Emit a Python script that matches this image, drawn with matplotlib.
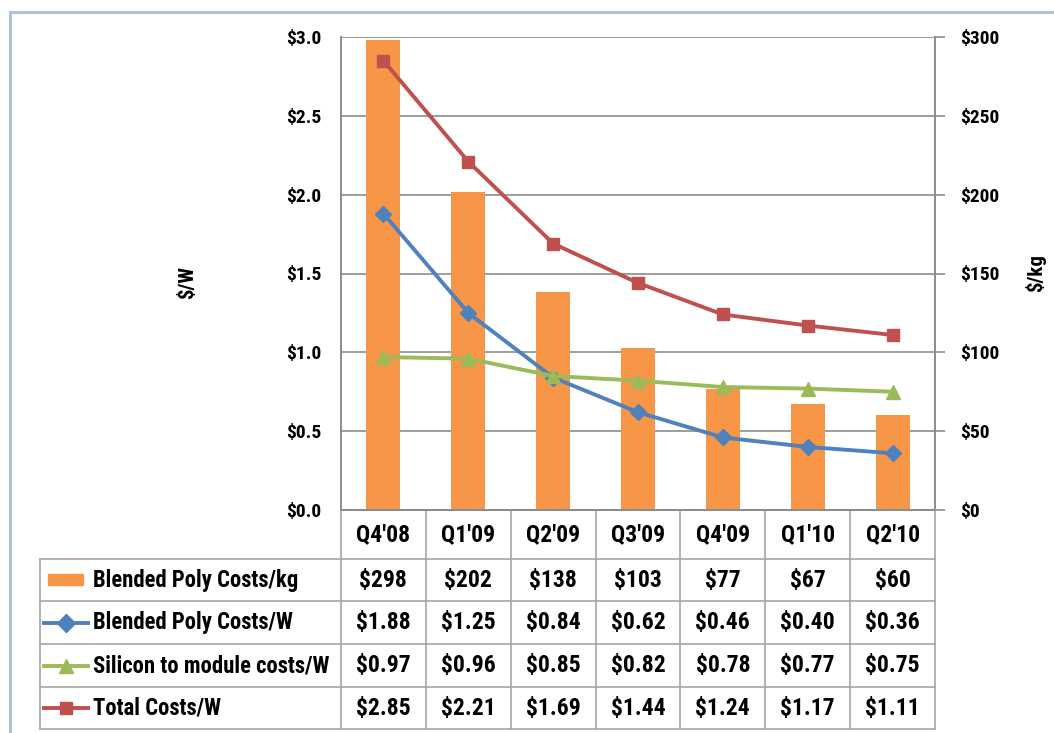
import matplotlib
matplotlib.use("Agg")
import matplotlib.pyplot as plt
from matplotlib.lines import Line2D
from matplotlib.patches import Rectangle
import matplotlib.transforms as mtransforms

plt.rcParams['font.family'] = ['Roboto Condensed', 'DejaVu Sans']
plt.rcParams['font.weight'] = 'bold'

quarters = ["Q4'08", "Q1'09", "Q2'09", "Q3'09", "Q4'09", "Q1'10", "Q2'10"]
poly_kg = [298, 202, 138, 103, 77, 67, 60]
poly_w = [1.88, 1.25, 0.84, 0.62, 0.46, 0.40, 0.36]
si_module_w = [0.97, 0.96, 0.85, 0.82, 0.78, 0.77, 0.75]
total_w = [2.85, 2.21, 1.69, 1.44, 1.24, 1.17, 1.11]
series_names = ["Blended Poly Costs/kg", "Blended Poly Costs/W",
                "Silicon to module costs/W", "Total Costs/W"]
left_ticks = [0.0, 0.5, 1.0, 1.5, 2.0, 2.5, 3.0]
right_ticks = [0, 50, 100, 150, 200, 250, 300]

ORANGE = '#F79646'
BLUE = '#4F81BD'
GREEN = '#9BBB59'
RED = '#C0504D'
GRID = '#8C8C8C'
TBL = '#A6A6A6'

W, H = 1054, 733
fig = plt.figure(figsize=(W / 100, H / 100), dpi=100)

# plot area in pixels
PL, PR, PT, PB = 341, 935, 37, 510
ax = fig.add_axes([PL / W, 1 - PB / H, (PR - PL) / W, (PB - PT) / H])
axk = ax.twinx()
ax.set_zorder(axk.get_zorder() + 1)
ax.patch.set_visible(False)

x = list(range(len(quarters)))
axk.bar(x, poly_kg, width=0.4, color=ORANGE, zorder=2)
axk.set_ylim(0, 300)
axk.set_yticks(right_ticks)
axk.set_yticklabels([f"${v}" for v in right_ticks], fontsize=14, fontweight='bold')
axk.yaxis.grid(True, color=GRID, lw=1.2, zorder=0)
axk.set_axisbelow(True)
axk.tick_params(axis='y', length=7, width=1.2, color=GRID, pad=11)
axk.set_ylabel("$/kg", fontsize=15, fontweight='bold', rotation=90)
axk.yaxis.set_label_coords((1025 - PL) / (PR - PL), 0.5)

ax.plot(x, poly_w, color=BLUE, lw=2.8, marker='D', ms=8, zorder=4)
ax.plot(x, si_module_w, color=GREEN, lw=2.8, marker='^', ms=10, zorder=4)
ax.plot(x, total_w, color=RED, lw=2.8, marker='s', ms=9, zorder=5)
ax.set_ylim(0, 3.0)
ax.set_xlim(-0.5, len(quarters) - 0.5)
ax.set_yticks(left_ticks)
ax.set_yticklabels([f"${v:.1f}" for v in left_ticks], fontsize=14, fontweight='bold')
ax.tick_params(axis='y', length=0, pad=14)
ax.set_xticks([])
ax.set_ylabel("$/W", fontsize=15, fontweight='bold', rotation=90)
ax.yaxis.set_label_coords((197 - PL) / (PR - PL), 0.48)
axk.set_xticks([])

for a in (ax, axk):
    a.spines['top'].set_visible(False)
    a.spines['left'].set_color(GRID)
    a.spines['right'].set_color(GRID)
    a.spines['bottom'].set_color(GRID)
    for s in a.spines.values():
        s.set_linewidth(1.2)

# ---- data table below the plot ----
tr = mtransforms.blended_transform_factory(ax.transData, fig.transFigure)
ff = fig.transFigure

def fy(py):
    return 1 - py / H

def fx(px):
    return px / W

row_edges = [510, 559, 601, 644, 687, 729]
n = len(quarters)

# vertical column lines
for i in range(n + 1):
    fig.add_artist(Line2D([i - 0.5, i - 0.5], [fy(row_edges[0]), fy(row_edges[-1])],
                          transform=tr, color=TBL, lw=1.2))
# horizontal lines
fig.add_artist(Line2D([-0.5, n - 0.5], [fy(row_edges[0]), fy(row_edges[0])],
                      transform=tr, color=GRID, lw=1.2))
for py in row_edges[1:]:
    fig.add_artist(Line2D([fx(40), fx(PR)], [fy(py), fy(py)], transform=ff,
                          color=TBL, lw=1.2))
fig.add_artist(Line2D([fx(40), fx(40)], [fy(row_edges[1]), fy(row_edges[-1])],
                      transform=ff, color=TBL, lw=1.2))

# header
hy = fy((row_edges[0] + row_edges[1]) / 2)
for i, q in enumerate(quarters):
    fig.text(i, hy, q, transform=tr, ha='center', va='center', fontsize=17,
             fontweight='bold')

table_rows = [
    [f"${v}" for v in poly_kg],
    [f"${v:.2f}" for v in poly_w],
    [f"${v:.2f}" for v in si_module_w],
    [f"${v:.2f}" for v in total_w],
]
styles = [
    ('bar', ORANGE, None),
    ('line', BLUE, 'D'),
    ('line', GREEN, '^'),
    ('line', RED, 's'),
]
for r, (vals, name, st) in enumerate(zip(table_rows, series_names, styles)):
    cy = (row_edges[r + 1] + row_edges[r + 2]) / 2
    for i, v in enumerate(vals):
        fig.text(i, fy(cy), v, transform=tr, ha='center', va='center',
                 fontsize=17, fontweight='bold')
    kind, col, mk = st
    if kind == 'bar':
        fig.add_artist(Rectangle((fx(48), fy(cy + 5)), (83 - 48) / W, 11 / H,
                                 transform=ff, color=col))
    else:
        fig.add_artist(Line2D([fx(44), fx(88)], [fy(cy), fy(cy)], transform=ff,
                              color=col, lw=2.8))
        fig.add_artist(Line2D([fx(66)], [fy(cy)], transform=ff, color=col,
                              marker=mk, ms=9 if mk != '^' else 10, lw=0))
    fig.text(fx(93), fy(cy), name, transform=ff, ha='left', va='center',
             fontsize=16.3, fontweight='bold')

# outer chart border (right and bottom edges fall outside the picture)
fig.add_artist(Rectangle((fx(10), fy(760)), (1080 - 10) / W, (760 - 12) / H,
                         transform=ff, fill=False, ec='#AFC2D6', lw=2.2))

fig.savefig("out.png", dpi=100)
